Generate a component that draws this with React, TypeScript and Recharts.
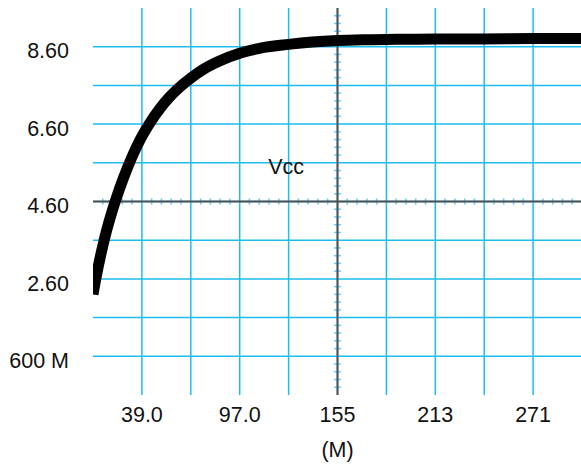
import { LineChart, Line, XAxis, YAxis, ReferenceLine, ReferenceDot, Label } from 'recharts';

// time axis (M) and Vcc
const timeM = [10, 12, 15, 18, 21, 24, 28, 33, 38, 43, 50, 55, 61, 68, 76, 85, 97, 110, 126, 140, 155, 170, 190, 213, 240, 271, 300];
const vccValues = [2.2, 2.68, 3.3, 3.84, 4.3, 4.71, 5.2, 5.74, 6.2, 6.58, 7.02, 7.28, 7.54, 7.79, 8.03, 8.23, 8.43, 8.57, 8.66, 8.72, 8.76, 8.78, 8.79, 8.8, 8.8, 8.81, 8.81];

const xTicks = [39, 97, 155, 213, 271];
const xTickLabels = ['39.0', '97.0', '155', '213', '271'];
const yTicks = [0.6, 2.6, 4.6, 6.6, 8.6];
const yTickLabels = ['600 M', '2.60', '4.60', '6.60', '8.60'];

const xGrid = [39, 68, 97, 126, 155, 184, 213, 242, 271];
const yGrid = [0.6, 1.6, 2.6, 3.6, 4.6, 5.6, 6.6, 7.6, 8.6];

const X_MIN = 10;
const X_MAX = 300;
const Y_MIN = -0.4;
const Y_MAX = 9.6;
const X_CENTER = 155;
const Y_CENTER = 4.6;

const data = timeM.map((t, i) => ({ t, vcc: vccValues[i] }));

// small divisions on the centre axes, 5 per grid square
const xMinor: number[] = [];
for (let k = 1; k < 50; k++) if (k % 5 !== 0) xMinor.push(X_MIN + k * 5.8);
const yMinor: number[] = [];
for (let k = 1; k < 50; k++) if (k % 5 !== 0) yMinor.push(Y_MIN + k * 0.2);

const FONT = '"Liberation Sans", Arial, sans-serif';
const GRID = '#1cbdf1';
const MINOR = '#5fcff3';
const AXIS = '#505050';

export default function App() {
  return (
    <div style={{ position: 'absolute', left: 0, top: 0, width: 581, height: 466, overflow: 'hidden', background: '#fff' }}>
      <LineChart width={582} height={466} data={data} margin={{ top: 8, right: 0, left: 0, bottom: 0 }}>
        <XAxis
          dataKey="t"
          type="number"
          domain={[X_MIN, X_MAX]}
          ticks={xTicks}
          tickFormatter={(v) => xTickLabels[xTicks.indexOf(v)]}
          axisLine={false}
          tickLine={false}
          tickSize={6}
          tickMargin={6}
          height={71}
          tick={{ fill: '#111', fontSize: 21.5, fontFamily: FONT }}
          allowDataOverflow
        >
          <Label value="(M)" position="insideBottom" offset={9} fill="#111" fontSize={21.5} fontFamily={FONT} />
        </XAxis>
        <YAxis
          type="number"
          domain={[Y_MIN, Y_MAX]}
          ticks={yTicks}
          tickFormatter={(v) => yTickLabels[yTicks.indexOf(v)]}
          axisLine={false}
          tickLine={false}
          tickSize={6}
          tickMargin={18}
          width={93}
          tick={{ fill: '#111', fontSize: 21.5, fontFamily: FONT, dy: 4 }}
          allowDataOverflow
        />

        {/* grid */}
        {xGrid.map((x) => (
          <ReferenceLine key={'gx' + x} x={x} stroke={GRID} strokeWidth={1.5} />
        ))}
        {yGrid.map((y) => (
          <ReferenceLine key={'gy' + y} y={y} stroke={GRID} strokeWidth={1.5} />
        ))}

        {/* centre axes with their small divisions */}
        {xMinor.map((x) => (
          <ReferenceLine
            key={'mx' + x}
            segment={[{ x, y: Y_CENTER - 0.08 }, { x, y: Y_CENTER + 0.08 }]}
            stroke={MINOR}
            strokeWidth={1.5}
            ifOverflow="visible"
          />
        ))}
        {yMinor.map((y) => (
          <ReferenceLine
            key={'my' + y}
            segment={[{ x: X_CENTER - 2, y }, { x: X_CENTER + 2, y }]}
            stroke={MINOR}
            strokeWidth={1.5}
            ifOverflow="visible"
          />
        ))}
        <ReferenceLine y={Y_CENTER} stroke={AXIS} strokeWidth={2} />
        <ReferenceLine x={X_CENTER} stroke={AXIS} strokeWidth={2} />

        <Line
          type="monotone"
          dataKey="vcc"
          stroke="#000"
          strokeWidth={11}
          dot={false}
          isAnimationActive={false}
        />

        <ReferenceDot x={124.5} y={5.5} r={0} fill="none" stroke="none">
          <Label value="Vcc" position="center" fill="#111" fontSize={21.5} fontFamily={FONT} />
        </ReferenceDot>
      </LineChart>
    </div>
  );
}
